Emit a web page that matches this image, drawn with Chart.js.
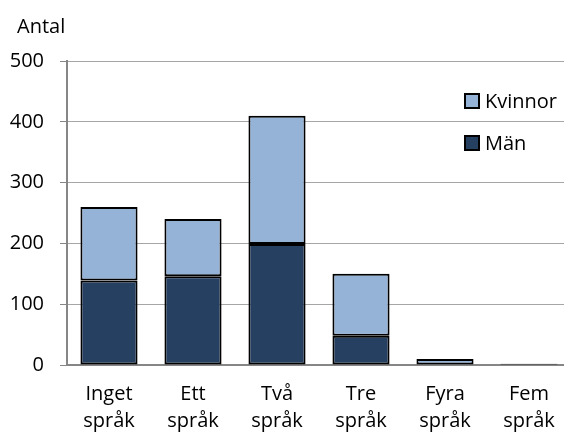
<!DOCTYPE html>
<html>
<head>
<meta charset="utf-8">
<script src="https://cdn.jsdelivr.net/npm/chart.js@4"></script>
<style>
    html, body { margin: 0; padding: 0; overflow: hidden; background: #fff; }
    #wrap { width: 580px; height: 435px; position: relative; }
</style>
</head>
<body>
<div id="wrap"><canvas id="sprakChart"></canvas></div>
<script>
const categories = [["Inget", "språk"], ["Ett", "språk"], ["Två", "språk"], ["Tre", "språk"], ["Fyra", "språk"], ["Fem", "språk"]];
const manValues = [139, 146, 199, 48, 0, 0];
const kvinnorValues = [121, 94, 211, 102, 10, 2];
const yTicks = [0, 100, 200, 300, 400, 500];

const FONT = "'Open Sans', sans-serif";

// legend + "Antal" drawn on the canvas
const extrasPlugin = {
    id: "extras",
    afterDraw(chart) {
        const ctx = chart.ctx;
        ctx.save();
        ctx.font = "20px " + FONT;
        ctx.fillStyle = "#000";
        ctx.textBaseline = "alphabetic";
        ctx.textAlign = "left";
        ctx.fillText("Antal", 17, 33);

        const items = chart.data.datasets.slice().reverse();
        const rows = [101, 143];
        items.forEach(function (ds, i) {
            const y = rows[i];
            ctx.fillStyle = ds.backgroundColor;
            ctx.fillRect(465, y - 7, 14, 14);
            ctx.lineWidth = 2;
            ctx.strokeStyle = "#000";
            ctx.strokeRect(465, y - 7, 14, 14);
            ctx.fillStyle = "#000";
            ctx.textBaseline = "middle";
            ctx.fillText(ds.label, 485, y + 1);
        });
        ctx.restore();
    }
};

const sprakCtx = document.getElementById("sprakChart").getContext("2d");
const sprakChart = new Chart(sprakCtx, {
    type: "bar",
    data: {
        labels: categories,
        datasets: [
            {
                label: "Män",
                data: manValues,
                backgroundColor: "#254061",
                borderColor: "#000",
                borderWidth: 2,
                borderSkipped: false
            },
            {
                label: "Kvinnor",
                data: kvinnorValues,
                backgroundColor: "#95B3D7",
                borderColor: "#000",
                borderWidth: 2,
                borderSkipped: false
            }
        ]
    },
    options: {
        responsive: true,
        maintainAspectRatio: false,
        animation: false,
        datasets: { bar: { categoryPercentage: 1, barPercentage: 0.68 } },
        layout: { padding: { top: 61, right: 9, left: 0, bottom: 0 } },
        plugins: {
            legend: { display: false },
            title: { display: false },
            tooltip: { enabled: false }
        },
        scales: {
            x: {
                stacked: true,
                grid: { display: false, drawTicks: false },
                border: { color: "#868686", width: 2 },
                ticks: { color: "#000", font: { family: FONT, size: 20, lineHeight: 1.35 }, padding: 16, maxRotation: 0 },
                afterFit: function (scale) { scale.height = 70; }
            },
            y: {
                stacked: true,
                min: 0,
                max: 500,
                afterBuildTicks: function (scale) {
                    scale.ticks = yTicks.map(function (v) { return { value: v }; });
                },
                grid: { color: "#A6A6A6", lineWidth: 1, tickLength: 7, tickColor: "#868686" },
                border: { color: "#868686", width: 2 },
                ticks: { color: "#000", font: { family: FONT, size: 20 }, padding: 16 },
                afterFit: function (scale) { scale.width = 67; }
            }
        }
    },
    plugins: [extrasPlugin]
});
</script>
</body>
</html>
